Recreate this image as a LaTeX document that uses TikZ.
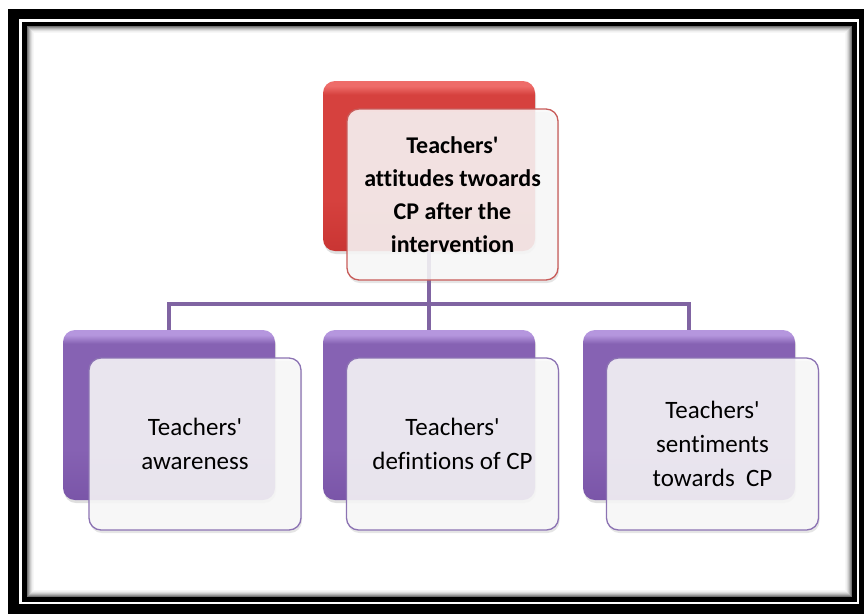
\documentclass[tikz,border=0pt]{standalone}
\usepackage{fontspec}
\setmainfont{Carlito}[Ligatures={TeXOff,NoCommon,NoRequired,NoContextual}]
\usetikzlibrary{shadows}
\definecolor{pd}{HTML}{7A55A8}
\definecolor{pm}{HTML}{8662B3}
\definecolor{pl}{HTML}{B596DE}
\definecolor{rd}{HTML}{C93533}
\definecolor{rm}{HTML}{D6413E}
\definecolor{rl}{HTML}{EE6C69}
\definecolor{pline}{HTML}{8064A2}
\definecolor{pborder}{HTML}{8C73B3}
\definecolor{rborder}{HTML}{C85C5A}
\pgfdeclareverticalshading{purpback}{100bp}{color(0bp)=(pd); color(25bp)=(pd); color(40bp)=(pm); color(71bp)=(pm); color(73.5bp)=(pl); color(75bp)=(pl); color(100bp)=(pl)}
\pgfdeclareverticalshading{redback}{100bp}{color(0bp)=(rd); color(25bp)=(rd); color(40bp)=(rm); color(71bp)=(rm); color(73.5bp)=(rl); color(75bp)=(rl); color(100bp)=(rl)}
\newcommand{\apos}{\symbol{39}}
\newcommand{\tI}{t\kern0pt i}
\tikzset{
  backbox/.style={minimum width=212pt, minimum height=170pt, rounded corners=12pt,
    inner sep=0pt, outer sep=0pt,
    drop shadow={shadow xshift=1pt, shadow yshift=-3pt, opacity=0.25}},
  pback/.style={backbox, shading=purpback},
  rback/.style={backbox, shading=redback},
  frontbox/.style={minimum width=212pt, minimum height=172pt, rounded corners=12pt,
    inner sep=0pt, outer sep=0pt, fill=white!96!gray, fill opacity=0.86, text opacity=1,
    line width=1.3pt, align=center, font=\fontsize{25}{34}\selectfont,
    drop shadow={shadow xshift=1pt, shadow yshift=-3pt, opacity=0.2}},
  pfront/.style={frontbox, draw=pborder},
  rfront/.style={frontbox, draw=rborder, font=\bfseries\fontsize{24}{33}\selectfont},
  conn/.style={draw=pline, line width=4pt, line join=miter},
}
\begin{document}
\begin{tikzpicture}[x=1pt,y=-1pt]
\useasboundingbox (0,0) rectangle (864,614);
% frame
\fill[black] (8,9) rectangle (864,614);
\fill[white] (19,19) rectangle (859,604);
\fill[black] (22,22) rectangle (857,602);
\fill[white] (27,26) rectangle (852,597);
\foreach \i/\g in {0/55,1/42,2/30,3/20,4/12,5/6,6/3}{
  \draw[black!\g, line width=1pt] (27.5+\i,26.5+\i) rectangle (851.5-\i,596.5-\i);
}
% back boxes
\node[rback] (rb) at (429,166) {};
\node[pback] (lb) at (169,415) {};
\node[pback] (mb) at (429,415) {};
\node[pback] (gb) at (689,415) {};
% connectors
\coordinate (hub) at (429,304);
\draw[conn] (rb.south) -- (mb.north);
\draw[conn] (lb.north) |- (hub) -| (gb.north);
% front boxes
\node[rfront, minimum width=211pt, minimum height=171pt] (rf) at (452.5,194.5)
  {Teachers\apos\\at\tI tudes twoards\\CP after the\\interven\tI on};
\node[pfront] (lf) at (195,444) {Teachers\apos\\awareness};
\node[pfront] (mf) at (452.5,444) {Teachers\apos\\defin\tI ons of CP};
\node[pfront] (gf) at (712.5,444) {Teachers\apos\\sen\tI ments\\towards\ \ CP};
\end{tikzpicture}
\end{document}
